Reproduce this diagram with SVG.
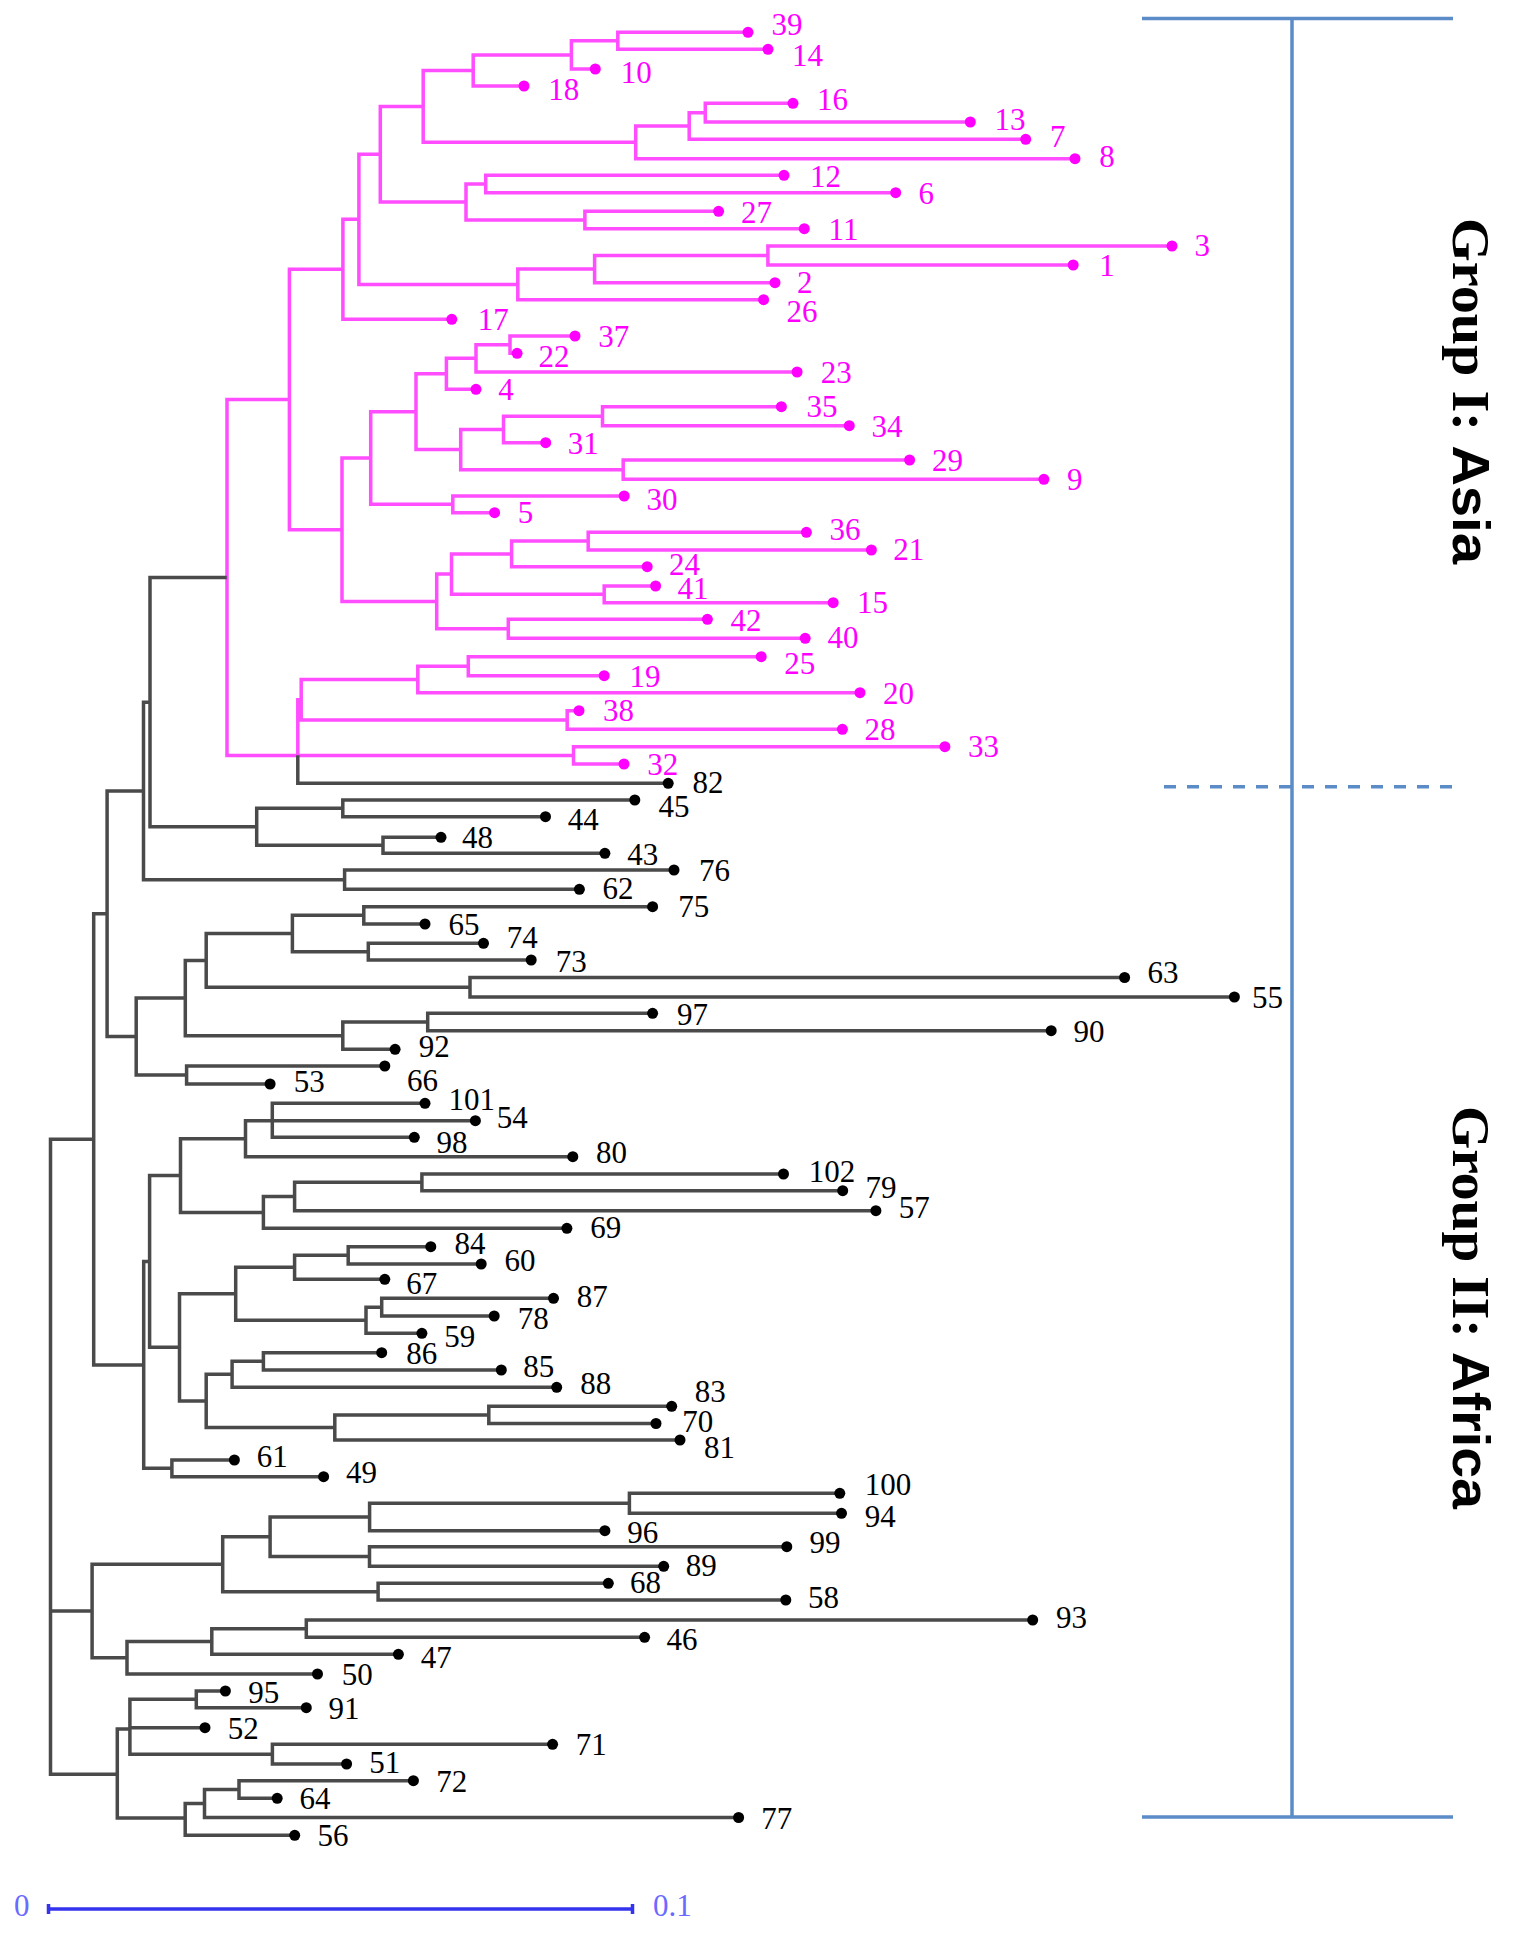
<svg xmlns="http://www.w3.org/2000/svg" width="1515" height="1942" viewBox="0 0 1515 1942">
<style>
.pk{fill:none;stroke:#ff4dff;stroke-width:3.5;stroke-linecap:square}
.bk{fill:none;stroke:#4a4a4a;stroke-width:3.5;stroke-linecap:square}
.pd{fill:#ff00ff}
.bd{fill:#000}
text{font-family:"Liberation Serif","Times New Roman",serif;font-size:31px}
.pt{fill:#ff00ff}
.bt{fill:#000}
.grp{font-family:"Liberation Serif","Times New Roman",serif;font-weight:bold;font-size:52px;fill:#000}
.sans{font-family:"Liberation Sans",Arial,sans-serif}
.br{stroke:#5b8cc8;stroke-width:3.5;fill:none}
</style>
<rect width="1515" height="1942" fill="#fff"/>
<g id="connectors">
<path class="pk" d="M617.8 32.3V49.3M617.8 32.3H748M617.8 49.3H768
M571.4 40.8V69M571.4 40.8H617.8M571.4 69H595.3
M473.2 54.9V86M473.2 54.9H571.4M473.2 86H524
M705.3 103.3V122M705.3 103.3H793M705.3 122H970.3
M689.2 112.7V139.3M689.2 112.7H705.3M689.2 139.3H1025.7
M635.7 126V158.7M635.7 126H689.2M635.7 158.7H1075
M423.2 70.5V142.3M423.2 70.5H473.2M423.2 142.3H635.7
M485.7 175.3V192.7M485.7 175.3H784M485.7 192.7H895.7
M584.9 211.3V228.7M584.9 211.3H718.6M584.9 228.7H804.3
M466 184V220M466 184H485.7M466 220H584.9
M380.3 106.4V202M380.3 106.4H423.2M380.3 202H466
M767.9 246V265M767.9 246H1172M767.9 265H1073.2
M594.6 255.5V282.7M594.6 255.5H767.9M594.6 282.7H775
M517.8 269.1V299.7M517.8 269.1H594.6M517.8 299.7H763.6
M358.9 154.2V284.4M358.9 154.2H380.3M358.9 284.4H517.8
M342.9 219.3V319.3M342.9 219.3H358.9M342.9 319.3H451.8
M510 336V353.3M510 336H575M510 353.3H517.1
M476 344.7V372M476 344.7H510M476 372H797.1
M446.4 358.3V389.3M446.4 358.3H476M446.4 389.3H476
M602.5 406.7V425.7M602.5 406.7H781.4M602.5 425.7H849.3
M503.5 416.2V442.7M503.5 416.2H602.5M503.5 442.7H545.7
M623.2 460V479.3M623.2 460H909.6M623.2 479.3H1043.9
M460.7 429.4V469.7M460.7 429.4H503.5M460.7 469.7H623.2
M416 373.8V449.5M416 373.8H446.4M416 449.5H460.7
M452.8 496V512.7M452.8 496H624.2M452.8 512.7H494.6
M370.7 411.7V504.3M370.7 411.7H416M370.7 504.3H452.8
M588.2 532.3V550M588.2 532.3H806.4M588.2 550H871.4
M511.6 541.1V566.7M511.6 541.1H588.2M511.6 566.7H647.2
M604.2 586V602.7M604.2 586H655.6M604.2 602.7H833.2
M451.5 553.9V594.3M451.5 553.9H511.6M451.5 594.3H604.2
M508.3 619.3V638.3M508.3 619.3H707.4M508.3 638.3H805.2
M436.7 574.1V628.8M436.7 574.1H451.5M436.7 628.8H508.3
M342 458V601.5M342 458H370.7M342 601.5H436.7
M289.4 269.3V529.7M289.4 269.3H342.9M289.4 529.7H342
M468.3 656.7V675.7M468.3 656.7H761.2M468.3 675.7H604.2
M417.8 666.2V692.7M417.8 666.2H468.3M417.8 692.7H860
M567.2 710.7V729.3M567.2 710.7H579M567.2 729.3H842.4
M301.2 679.5V720M301.2 679.5H417.8M301.2 720H567.2
M573.5 746.7V764M573.5 746.7H944.9M573.5 764H624
M297.8 699.7V755.4M297.8 699.7H301.2M297.8 755.4H573.5
M227 399.5V755.4M227 399.5H289.4M227 755.4H297.8"/>
<path class="bk" d="M297.8 757V783.3M297.8 783.3H668.2
M342.8 800V816.7M342.8 800H634.8M342.8 816.7H545.5
M383 837.3V853.3M383 837.3H441M383 853.3H604.9
M256.7 808.3V845.3M256.7 808.3H342.8M256.7 845.3H383
M150 577.5V826.8M150 577.5H225M150 826.8H256.7
M344.6 870V889.3M344.6 870H674M344.6 889.3H579.4
M143.5 702.2V879.7M143.5 702.2H150M143.5 879.7H344.6
M363.8 906.7V924M363.8 906.7H652.6M363.8 924H425
M368.3 943.3V960M368.3 943.3H483.5M368.3 960H531.2
M292.4 915.3V951.7M292.4 915.3H363.8M292.4 951.7H368.3
M470 977.5V997M470 977.5H1124.6M470 997H1234.4
M206.2 933.5V987.2M206.2 933.5H292.4M206.2 987.2H470
M427.7 1013.3V1030.7M427.7 1013.3H652.6M427.7 1030.7H1051.2
M342.8 1022V1049.3M342.8 1022H427.7M342.8 1049.3H395.1
M185.3 960.4V1035.7M185.3 960.4H206.2M185.3 1035.7H342.8
M186.6 1066V1084M186.6 1066H384.8M186.6 1084H270.1
M136.2 998V1075M136.2 998H185.3M136.2 1075H186.6
M107.1 791V1036.5M107.1 791H143.5M107.1 1036.5H136.2
M272.3 1103.3V1137.3M272.3 1103.3H425M272.3 1120.7H475.4M272.3 1137.3H414.3
M245.5 1120.7V1156.7M245.5 1120.7H272.3M245.5 1156.7H572.8
M421.9 1174V1190.7M421.9 1174H783.5M421.9 1190.7H842.7
M294.6 1182.3V1210.7M294.6 1182.3H421.9M294.6 1210.7H875.9
M263.4 1196.5V1228.3M263.4 1196.5H294.6M263.4 1228.3H566.9
M180.5 1138.7V1212.4M180.5 1138.7H245.5M180.5 1212.4H263.4
M348.2 1246.7V1264M348.2 1246.7H430.8M348.2 1264H481.2
M294.6 1255.3V1279.3M294.6 1255.3H348.2M294.6 1279.3H384.8
M381.7 1298.3V1316M381.7 1298.3H553.5M381.7 1316H494.2
M366 1307.2V1333.3M366 1307.2H381.7M366 1333.3H421.9
M235.7 1267.3V1320.2M235.7 1267.3H294.6M235.7 1320.2H366
M263.4 1352.7V1370M263.4 1352.7H381.7M263.4 1370H501.3
M232.1 1361.3V1387.3M232.1 1361.3H263.4M232.1 1387.3H556.7
M488.8 1406.3V1423.5M488.8 1406.3H671.7M488.8 1423.5H656
M334.8 1414.9V1440M334.8 1414.9H488.8M334.8 1440H680
M206.2 1374.3V1427.5M206.2 1374.3H232.1M206.2 1427.5H334.8
M179.5 1293.8V1400.9M179.5 1293.8H235.7M179.5 1400.9H206.2
M149.6 1175.5V1347.3M149.6 1175.5H180.5M149.6 1347.3H179.5
M171.9 1460V1476.7M171.9 1460H234.4M171.9 1476.7H323.6
M143.7 1261.4V1468.3M143.7 1261.4H149.6M143.7 1468.3H171.9
M93.7 913.8V1364.9M93.7 913.8H107.1M93.7 1364.9H143.7
M629.4 1493.3V1513.3M629.4 1493.3H839.8M629.4 1513.3H841.5
M369.6 1503.3V1530.7M369.6 1503.3H629.4M369.6 1530.7H604.9
M369.5 1546.7V1566.3M369.5 1546.7H786.8M369.5 1566.3H663.7
M270.1 1517V1556.5M270.1 1517H369.6M270.1 1556.5H369.5
M378.1 1583.3V1600M378.1 1583.3H608.3M378.1 1600H785.8
M222.7 1536.8V1591.7M222.7 1536.8H270.1M222.7 1591.7H378.1
M306.3 1620V1637.3M306.3 1620H1032.7M306.3 1637.3H644.6
M211.8 1628.7V1654.3M211.8 1628.7H306.3M211.8 1654.3H398.4
M127 1641.5V1674M127 1641.5H211.8M127 1674H317.5
M92.1 1564.2V1657.7M92.1 1564.2H222.7M92.1 1657.7H127
M196.3 1691V1707.7M196.3 1691H225.4M196.3 1707.7H306.3
M272.4 1744.3V1764M272.4 1744.3H552.6M272.4 1764H346.6
M129.9 1699.3V1754.2M129.9 1699.3H196.3M129.9 1727.7H205M129.9 1754.2H272.4
M239 1780.7V1798.3M239 1780.7H413.4M239 1798.3H277.2
M204.5 1789.5V1817.5M204.5 1789.5H239M204.5 1817.5H738.6
M185.2 1803.5V1835.3M185.2 1803.5H204.5M185.2 1835.3H294.7
M117.3 1729V1818M117.3 1729H129.9M117.3 1818H185.2
M50.5 1139.3V1774.2M50.5 1139.3H93.7M50.5 1611H92.1M50.5 1774.2H117.3"/>
</g>
<g id="leaves-asia">
<g id="n39"><circle class="pd" cx="748" cy="32.3" r="5.5"/><text class="pt" x="771.4" y="35">39</text></g>
<g id="n14"><circle class="pd" cx="768" cy="49.3" r="5.5"/><text class="pt" x="792.1" y="65.7">14</text></g>
<g id="n10"><circle class="pd" cx="595.3" cy="69" r="5.5"/><text class="pt" x="620.7" y="83.3">10</text></g>
<g id="n18"><circle class="pd" cx="524" cy="86" r="5.5"/><text class="pt" x="548.2" y="100">18</text></g>
<g id="n16"><circle class="pd" cx="793" cy="103.3" r="5.5"/><text class="pt" x="817.1" y="110">16</text></g>
<g id="n13"><circle class="pd" cx="970.3" cy="122" r="5.5"/><text class="pt" x="994.6" y="130">13</text></g>
<g id="n7"><circle class="pd" cx="1025.7" cy="139.3" r="5.5"/><text class="pt" x="1050" y="146.7">7</text></g>
<g id="n8"><circle class="pd" cx="1075" cy="158.7" r="5.5"/><text class="pt" x="1099.3" y="166.7">8</text></g>
<g id="n12"><circle class="pd" cx="784" cy="175.3" r="5.5"/><text class="pt" x="810" y="186.7">12</text></g>
<g id="n6"><circle class="pd" cx="895.7" cy="192.7" r="5.5"/><text class="pt" x="918.6" y="204">6</text></g>
<g id="n27"><circle class="pd" cx="718.6" cy="211.3" r="5.5"/><text class="pt" x="741" y="222.7">27</text></g>
<g id="n11"><circle class="pd" cx="804.3" cy="228.7" r="5.5"/><text class="pt" x="828.6" y="240">11</text></g>
<g id="n3"><circle class="pd" cx="1172" cy="246" r="5.5"/><text class="pt" x="1194.6" y="256">3</text></g>
<g id="n1"><circle class="pd" cx="1073.2" cy="265" r="5.5"/><text class="pt" x="1099.3" y="276">1</text></g>
<g id="n2"><circle class="pd" cx="775" cy="282.7" r="5.5"/><text class="pt" x="797.1" y="293.3">2</text></g>
<g id="n26"><circle class="pd" cx="763.6" cy="299.7" r="5.5"/><text class="pt" x="786.4" y="321.7">26</text></g>
<g id="n17"><circle class="pd" cx="451.8" cy="319.3" r="5.5"/><text class="pt" x="477.8" y="330">17</text></g>
<g id="n37"><circle class="pd" cx="575" cy="336" r="5.5"/><text class="pt" x="598.2" y="347.3">37</text></g>
<g id="n22"><circle class="pd" cx="517.1" cy="353.3" r="5.5"/><text class="pt" x="538.5" y="367.3">22</text></g>
<g id="n23"><circle class="pd" cx="797.1" cy="372" r="5.5"/><text class="pt" x="820.7" y="383.3">23</text></g>
<g id="n4"><circle class="pd" cx="476" cy="389.3" r="5.5"/><text class="pt" x="498.2" y="400">4</text></g>
<g id="n35"><circle class="pd" cx="781.4" cy="406.7" r="5.5"/><text class="pt" x="806.4" y="417.3">35</text></g>
<g id="n34"><circle class="pd" cx="849.3" cy="425.7" r="5.5"/><text class="pt" x="871.4" y="436.7">34</text></g>
<g id="n31"><circle class="pd" cx="545.7" cy="442.7" r="5.5"/><text class="pt" x="567.8" y="454">31</text></g>
<g id="n29"><circle class="pd" cx="909.6" cy="460" r="5.5"/><text class="pt" x="932.1" y="470.7">29</text></g>
<g id="n9"><circle class="pd" cx="1043.9" cy="479.3" r="5.5"/><text class="pt" x="1067.1" y="490">9</text></g>
<g id="n30"><circle class="pd" cx="624.2" cy="496" r="5.5"/><text class="pt" x="646.4" y="510">30</text></g>
<g id="n5"><circle class="pd" cx="494.6" cy="512.7" r="5.5"/><text class="pt" x="517.8" y="523.3">5</text></g>
<g id="n36"><circle class="pd" cx="806.4" cy="532.3" r="5.5"/><text class="pt" x="829.4" y="540">36</text></g>
<g id="n21"><circle class="pd" cx="871.4" cy="550" r="5.5"/><text class="pt" x="893.3" y="560">21</text></g>
<g id="n24"><circle class="pd" cx="647.2" cy="566.7" r="5.5"/><text class="pt" x="669.1" y="575">24</text></g>
<g id="n41"><circle class="pd" cx="655.6" cy="586" r="5.5"/><text class="pt" x="677.5" y="599.3">41</text></g>
<g id="n15"><circle class="pd" cx="833.2" cy="602.7" r="5.5"/><text class="pt" x="856.9" y="612.7">15</text></g>
<g id="n42"><circle class="pd" cx="707.4" cy="619.3" r="5.5"/><text class="pt" x="730.6" y="630.7">42</text></g>
<g id="n40"><circle class="pd" cx="805.2" cy="638.3" r="5.5"/><text class="pt" x="827.4" y="648.3">40</text></g>
<g id="n25"><circle class="pd" cx="761.2" cy="656.7" r="5.5"/><text class="pt" x="784.2" y="674">25</text></g>
<g id="n19"><circle class="pd" cx="604.2" cy="675.7" r="5.5"/><text class="pt" x="629.5" y="686.7">19</text></g>
<g id="n20"><circle class="pd" cx="860" cy="692.7" r="5.5"/><text class="pt" x="882.9" y="704">20</text></g>
<g id="n38"><circle class="pd" cx="579" cy="710.7" r="5.5"/><text class="pt" x="603" y="720.7">38</text></g>
<g id="n28"><circle class="pd" cx="842.4" cy="729.3" r="5.5"/><text class="pt" x="864.6" y="740">28</text></g>
<g id="n33"><circle class="pd" cx="944.9" cy="746.7" r="5.5"/><text class="pt" x="967.9" y="757.3">33</text></g>
<g id="n32"><circle class="pd" cx="624" cy="764" r="5.5"/><text class="pt" x="647.2" y="775">32</text></g>
</g>
<g id="leaves-africa">
<g id="n82"><circle class="bd" cx="668.2" cy="783.3" r="5.5"/><text class="bt" x="692.6" y="793.3">82</text></g>
<g id="n45"><circle class="bd" cx="634.8" cy="800" r="5.5"/><text class="bt" x="658.5" y="816.7">45</text></g>
<g id="n44"><circle class="bd" cx="545.5" cy="816.7" r="5.5"/><text class="bt" x="567.8" y="830">44</text></g>
<g id="n48"><circle class="bd" cx="441" cy="837.3" r="5.5"/><text class="bt" x="462" y="848.3">48</text></g>
<g id="n43"><circle class="bd" cx="604.9" cy="853.3" r="5.5"/><text class="bt" x="627.2" y="865">43</text></g>
<g id="n76"><circle class="bd" cx="674" cy="870" r="5.5"/><text class="bt" x="698.9" y="880.7">76</text></g>
<g id="n62"><circle class="bd" cx="579.4" cy="889.3" r="5.5"/><text class="bt" x="602.6" y="899.3">62</text></g>
<g id="n75"><circle class="bd" cx="652.6" cy="906.7" r="5.5"/><text class="bt" x="678.2" y="917.3">75</text></g>
<g id="n65"><circle class="bd" cx="425" cy="924" r="5.5"/><text class="bt" x="448.6" y="935">65</text></g>
<g id="n74"><circle class="bd" cx="483.5" cy="943.3" r="5.5"/><text class="bt" x="506.7" y="948.3">74</text></g>
<g id="n73"><circle class="bd" cx="531.2" cy="960" r="5.5"/><text class="bt" x="555.8" y="971.7">73</text></g>
<g id="n63"><circle class="bd" cx="1124.6" cy="977.5" r="5.5"/><text class="bt" x="1147.4" y="983.3">63</text></g>
<g id="n55"><circle class="bd" cx="1234.4" cy="997" r="5.5"/><text class="bt" x="1251.9" y="1008.3">55</text></g>
<g id="n97"><circle class="bd" cx="652.6" cy="1013.3" r="5.5"/><text class="bt" x="677" y="1025">97</text></g>
<g id="n90"><circle class="bd" cx="1051.2" cy="1030.7" r="5.5"/><text class="bt" x="1073.6" y="1041.7">90</text></g>
<g id="n92"><circle class="bd" cx="395.1" cy="1049.3" r="5.5"/><text class="bt" x="418.7" y="1056.7">92</text></g>
<g id="n66"><circle class="bd" cx="384.8" cy="1066" r="5.5"/><text class="bt" x="407.1" y="1090.7">66</text></g>
<g id="n53"><circle class="bd" cx="270.1" cy="1084" r="5.5"/><text class="bt" x="293.7" y="1091.7">53</text></g>
<g id="n101"><circle class="bd" cx="425" cy="1103.3" r="5.5"/><text class="bt" x="448.6" y="1110">101</text></g>
<g id="n54"><circle class="bd" cx="475.4" cy="1120.7" r="5.5"/><text class="bt" x="496.8" y="1128.3">54</text></g>
<g id="n98"><circle class="bd" cx="414.3" cy="1137.3" r="5.5"/><text class="bt" x="436.6" y="1153.3">98</text></g>
<g id="n80"><circle class="bd" cx="572.8" cy="1156.7" r="5.5"/><text class="bt" x="596" y="1163.3">80</text></g>
<g id="n102"><circle class="bd" cx="783.5" cy="1174" r="5.5"/><text class="bt" x="808.8" y="1181.7">102</text></g>
<g id="n79"><circle class="bd" cx="842.7" cy="1190.7" r="5.5"/><text class="bt" x="865.5" y="1198.3">79</text></g>
<g id="n57"><circle class="bd" cx="875.9" cy="1210.7" r="5.5"/><text class="bt" x="898.7" y="1218.3">57</text></g>
<g id="n69"><circle class="bd" cx="566.9" cy="1228.3" r="5.5"/><text class="bt" x="590.2" y="1238.3">69</text></g>
<g id="n84"><circle class="bd" cx="430.8" cy="1246.7" r="5.5"/><text class="bt" x="454.4" y="1254">84</text></g>
<g id="n60"><circle class="bd" cx="481.2" cy="1264" r="5.5"/><text class="bt" x="504.4" y="1270.7">60</text></g>
<g id="n67"><circle class="bd" cx="384.8" cy="1279.3" r="5.5"/><text class="bt" x="406.2" y="1294">67</text></g>
<g id="n87"><circle class="bd" cx="553.5" cy="1298.3" r="5.5"/><text class="bt" x="576.8" y="1306.7">87</text></g>
<g id="n78"><circle class="bd" cx="494.2" cy="1316" r="5.5"/><text class="bt" x="517.8" y="1329.3">78</text></g>
<g id="n59"><circle class="bd" cx="421.9" cy="1333.3" r="5.5"/><text class="bt" x="444.2" y="1346.7">59</text></g>
<g id="n86"><circle class="bd" cx="381.7" cy="1352.7" r="5.5"/><text class="bt" x="406.2" y="1364">86</text></g>
<g id="n85"><circle class="bd" cx="501.3" cy="1370" r="5.5"/><text class="bt" x="523.2" y="1376.7">85</text></g>
<g id="n88"><circle class="bd" cx="556.7" cy="1387.3" r="5.5"/><text class="bt" x="580.3" y="1394">88</text></g>
<g id="n83"><circle class="bd" cx="671.7" cy="1406.3" r="5.5"/><text class="bt" x="694.8" y="1401.7">83</text></g>
<g id="n70"><circle class="bd" cx="656" cy="1423.5" r="5.5"/><text class="bt" x="682.3" y="1431.7">70</text></g>
<g id="n81"><circle class="bd" cx="680" cy="1440" r="5.5"/><text class="bt" x="703.9" y="1458.3">81</text></g>
<g id="n61"><circle class="bd" cx="234.4" cy="1460" r="5.5"/><text class="bt" x="256.7" y="1466.7">61</text></g>
<g id="n49"><circle class="bd" cx="323.6" cy="1476.7" r="5.5"/><text class="bt" x="346" y="1483.3">49</text></g>
<g id="n100"><circle class="bd" cx="839.8" cy="1493.3" r="5.5"/><text class="bt" x="864.7" y="1495">100</text></g>
<g id="n94"><circle class="bd" cx="841.5" cy="1513.3" r="5.5"/><text class="bt" x="864.7" y="1526.7">94</text></g>
<g id="n96"><circle class="bd" cx="604.9" cy="1530.7" r="5.5"/><text class="bt" x="627.2" y="1542.7">96</text></g>
<g id="n99"><circle class="bd" cx="786.8" cy="1546.7" r="5.5"/><text class="bt" x="809.6" y="1553.3">99</text></g>
<g id="n89"><circle class="bd" cx="663.7" cy="1566.3" r="5.5"/><text class="bt" x="685.8" y="1576">89</text></g>
<g id="n68"><circle class="bd" cx="608.3" cy="1583.3" r="5.5"/><text class="bt" x="630.1" y="1593.3">68</text></g>
<g id="n58"><circle class="bd" cx="785.8" cy="1600" r="5.5"/><text class="bt" x="808.1" y="1608.3">58</text></g>
<g id="n93"><circle class="bd" cx="1032.7" cy="1620" r="5.5"/><text class="bt" x="1056" y="1628.3">93</text></g>
<g id="n46"><circle class="bd" cx="644.6" cy="1637.3" r="5.5"/><text class="bt" x="666.4" y="1650">46</text></g>
<g id="n47"><circle class="bd" cx="398.4" cy="1654.3" r="5.5"/><text class="bt" x="420.7" y="1668.3">47</text></g>
<g id="n50"><circle class="bd" cx="317.5" cy="1674" r="5.5"/><text class="bt" x="341.7" y="1685">50</text></g>
<g id="n95"><circle class="bd" cx="225.4" cy="1691" r="5.5"/><text class="bt" x="248.2" y="1702.7">95</text></g>
<g id="n91"><circle class="bd" cx="306.3" cy="1707.7" r="5.5"/><text class="bt" x="328.6" y="1719.3">91</text></g>
<g id="n52"><circle class="bd" cx="205" cy="1727.7" r="5.5"/><text class="bt" x="227.8" y="1739">52</text></g>
<g id="n71"><circle class="bd" cx="552.6" cy="1744.3" r="5.5"/><text class="bt" x="575.8" y="1755">71</text></g>
<g id="n51"><circle class="bd" cx="346.6" cy="1764" r="5.5"/><text class="bt" x="369.3" y="1773.3">51</text></g>
<g id="n72"><circle class="bd" cx="413.4" cy="1780.7" r="5.5"/><text class="bt" x="436.2" y="1791.7">72</text></g>
<g id="n64"><circle class="bd" cx="277.2" cy="1798.3" r="5.5"/><text class="bt" x="299.5" y="1809.3">64</text></g>
<g id="n77"><circle class="bd" cx="738.6" cy="1817.5" r="5.5"/><text class="bt" x="761.3" y="1829.3">77</text></g>
<g id="n56"><circle class="bd" cx="294.7" cy="1835.3" r="5.5"/><text class="bt" x="317.5" y="1846">56</text></g>
</g>
<g id="group-bracket">
<path class="br" d="M1142 18.5H1453M1292 18.5V1817M1142 1817H1453"/>
<path class="br" d="M1164 786.7H1453" stroke-dasharray="12 11"/>
<text class="grp" transform="translate(1453,218) rotate(90)" textLength="346" lengthAdjust="spacingAndGlyphs">Group I: <tspan class="sans">Asia</tspan></text>
<text class="grp" transform="translate(1453,1106) rotate(90)" textLength="403" lengthAdjust="spacingAndGlyphs">Group II: <tspan class="sans">Africa</tspan></text>
</g>
<g id="scale-bar">
<path d="M48.5 1909H632.5M48.5 1904V1914M632.5 1904V1914" stroke="#3434ee" stroke-width="3.5" fill="none"/>
<text x="14" y="1916" fill="#6a6aff">0</text>
<text x="653" y="1916" fill="#6a6aff">0.1</text>
</g>
</svg>
